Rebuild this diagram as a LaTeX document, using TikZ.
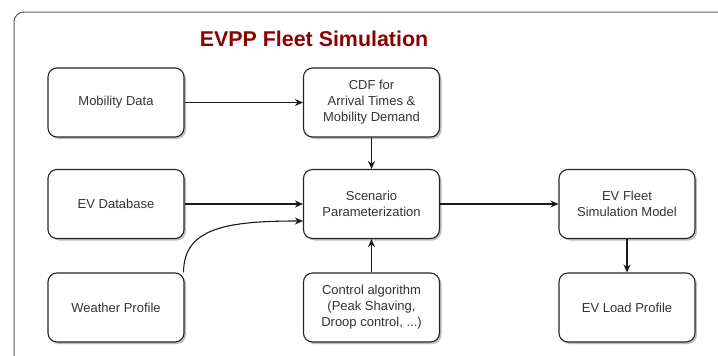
\documentclass[tikz,border=0pt]{standalone}
\usepackage{fontspec}
\setmainfont{Liberation Sans}
\usetikzlibrary{arrows.meta,shadows}
\definecolor{txt}{RGB}{51,51,51}
\definecolor{titlered}{RGB}{140,0,0}
\definecolor{frame}{RGB}{90,90,90}
\tikzset{
  box/.style={draw=black!85, line width=1.1pt, rounded corners=9pt, fill=white,
    minimum width=136pt, minimum height=69pt, align=center, text=txt,
    font=\fontsize{13pt}{16pt}\selectfont,
    drop shadow={shadow xshift=2pt, shadow yshift=-2pt, fill=black, opacity=.25}},
  conn/.style={line width=1.1pt, draw=black!90, -{Stealth[length=8pt,width=7pt]}}
}
\begin{document}
\begin{tikzpicture}[x=1pt,y=-1pt]
\useasboundingbox (0,0) rectangle (718,356);
\fill[white] (0,0) rectangle (718,356);
\begin{scope}
\clip (0,0) rectangle (718,356);
\draw[frame, line width=1pt, rounded corners=10pt] (14,12) rectangle (760,400);
\end{scope}
\node[text=titlered, font=\fontsize{21.4pt}{24pt}\selectfont\bfseries] (title) at (314,39) {EVPP Fleet Simulation};
\node[box] (mob) at (116,102.5) {Mobility Data};
\node[box] (cdf) at (371.5,102.5) {CDF for\\Arrival Times \&\\Mobility Demand};
\node[box] (db) at (116,204) {EV Database};
\node[box] (sc) at (371.5,204) {Scenario\\Parameterization};
\node[box] (fl) at (627,204) {EV Fleet\\Simulation Model};
\node[box] (wp) at (116,307.5) {Weather Profile};
\node[box] (ctl) at (371.5,307.5) {Control algorithm\\(Peak Shaving,\\Droop control, ...)};
\node[box] (lp) at (627,307.5) {EV Load Profile};
\draw[conn] (mob) -- (cdf);
\draw[conn] (cdf) -- (sc);
\draw[conn] (db) -- (sc);
\draw[conn] ([xshift=-1pt]wp.north east) .. controls +(0,-45) and +(-75,0) .. ([yshift=-17pt]sc.west);
\draw[conn] (ctl) -- (sc);
\draw[conn] (sc) -- (fl);
\draw[conn] (fl) -- (lp);
\end{tikzpicture}
\end{document}
